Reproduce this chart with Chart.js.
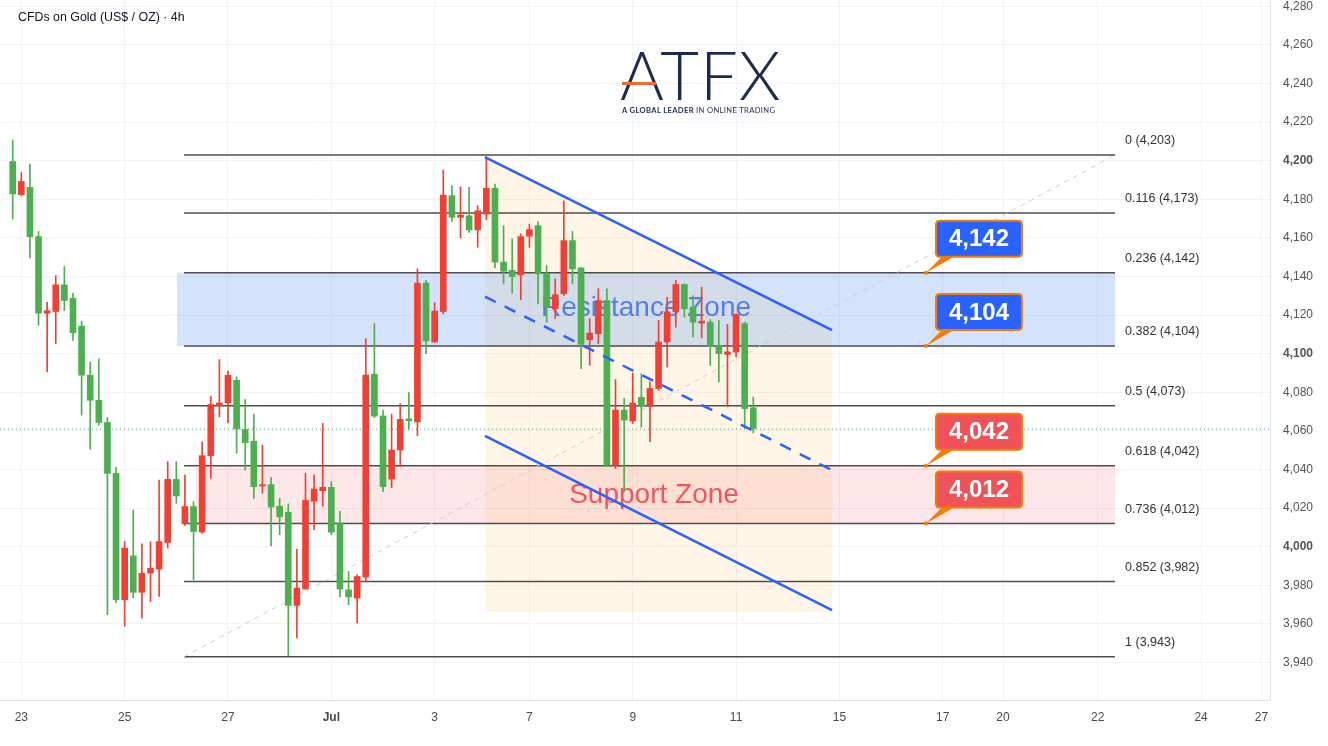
<!DOCTYPE html>
<html><head><meta charset="utf-8">
<script src="https://cdn.jsdelivr.net/npm/chart.js@4.4.1/dist/chart.umd.min.js"></script>
<style>
html,body{margin:0;padding:0;background:#fff;}
#wrap{position:relative;width:1328px;height:746px;overflow:hidden;}
#c{position:absolute;left:0;top:0;}
.title{position:absolute;left:18px;top:10px;font:12.4px "Liberation Sans",Arial,sans-serif;color:#131722;white-space:nowrap;}
.logo{position:absolute;left:620px;top:41px;width:165px;height:80px;}
.logo .atfx{position:absolute;left:0;top:0;font:300 67px Lato,"Liberation Sans",sans-serif;color:#1c2b4e;line-height:66px;letter-spacing:1px;white-space:nowrap;}
.logo .bar{position:absolute;left:2px;top:41px;width:34px;height:3px;background:#f26b2a;}
.logo .tag{position:absolute;left:2px;top:64px;font:700 7.6px Lato,"Liberation Sans",sans-serif;color:#1c2b4e;letter-spacing:0.35px;white-space:nowrap;}
.logo .tag span{font-weight:400;}
</style></head>
<body>
<div id="wrap">
<canvas id="c" width="1328" height="746"></canvas>
<div class="title">CFDs on Gold (US$ / OZ) · 4h</div>
<div class="logo"><div class="atfx">ATFX</div><div class="bar"></div><div class="tag">A GLOBAL LEADER <span>IN ONLINE TRADING</span></div></div>
</div>
<script>
// ---- candle data (4h) ----
const candleOpen = [4199.6,4182.4,4186.2,4160.7,4121.0,4121.9,4135.7,4128.8,4114.3,4088.9,
4075.9,4064.4,4038.0,3972.6,3995.3,3976.4,3986.3,3988.4,4002.2,4034.9,
4011.9,4020.8,4007.6,4047.2,4073.2,4074.5,4086.3,4060.8,4054.7,4031.5,
4032.2,4021.0,4017.9,3969.6,3978.1,4023.6,4029.1,4030.8,4012.3,3977.7,
3973.4,3984.3,4089.4,4067.8,4035.1,4050.1,4066.3,4064.7,4136.6,4106.1,
4121.9,4181.9,4170.7,4171.5,4164.2,4172.4,4185.7,4147.5,4143.2,4140.9,
4160.9,4166.4,4141.4,4123.3,4131.1,4158.6,4144.5,4107.3,4110.4,4127.6,
4042.3,4070.8,4065.2,4077.4,4072.8,4082.0,4106.1,4121.7,4135.9,4124.2,
4115.9,4116.4,4104.4,4099.7,4100.9,4115.6,4072.0];
const candleHigh = [4210.7,4193.9,4198.3,4163.4,4126.7,4140.5,4145.2,4131.4,4116.9,4095.7,
4097.3,4067.0,4041.1,4002.7,4019.0,4001.5,4002.7,4034.6,4044.1,4044.1,
4037.2,4023.4,4054.4,4078.0,4097.0,4091.0,4088.0,4076.3,4068.7,4052.7,
4036.0,4025.1,4022.2,3998.8,4038.0,4037.2,4063.9,4033.7,4018.3,3987.2,
3985.5,4107.8,4115.6,4070.8,4068.7,4074.2,4079.9,4144.0,4138.0,4126.4,
4195.2,4187.0,4186.5,4186.2,4176.7,4202.0,4187.9,4166.4,4159.5,4162.1,
4167.2,4168.4,4145.7,4138.8,4179.3,4163.4,4144.5,4118.2,4133.7,4133.7,
4086.6,4076.9,4090.0,4089.7,4085.4,4117.3,4129.3,4138.0,4136.3,4130.2,
4134.5,4117.6,4117.3,4115.2,4120.7,4116.4,4077.6];
const candleLow = [4169.8,4182.0,4149.7,4114.7,4090.6,4105.2,4122.4,4106.9,4068.2,4050.5,
4063.0,3964.8,3971.0,3958.8,3973.5,3963.0,3971.7,3974.3,3999.3,4022.5,
4011.0,3982.9,4007.0,4035.5,4067.3,4064.2,4048.4,4039.8,4025.1,4027.7,
4000.5,4006.2,3943.6,3952.8,3978.0,4008.8,4021.0,4006.2,3974.0,3970.0,
3960.5,3981.7,4067.0,4028.6,4030.6,4041.5,4060.8,4057.5,4100.0,4105.9,
4120.7,4168.4,4160.0,4162.9,4155.2,4169.5,4144.5,4136.3,4131.4,4128.0,
4155.2,4125.9,4116.4,4118.2,4130.2,4136.3,4092.3,4094.0,4105.2,4041.5,
4040.6,4028.4,4063.9,4062.1,4054.4,4081.0,4093.2,4113.8,4119.0,4108.7,
4108.3,4094.0,4085.4,4072.5,4098.3,4061.3,4059.0];
const candleClose = [4182.8,4189.3,4160.7,4121.0,4122.3,4135.7,4127.6,4110.9,4088.9,4075.9,
4064.4,4038.0,3972.6,3999.3,3976.4,3986.3,3988.8,4002.7,4034.9,4026.3,
4020.8,4007.9,4047.2,4073.7,4074.5,4088.9,4061.0,4054.0,4031.1,4032.2,
4020.6,4015.5,3969.6,3978.6,4024.0,4029.9,4030.8,4007.6,3978.1,3974.0,
3984.6,4088.9,4067.7,4031.1,4050.1,4066.0,4065.3,4136.6,4106.7,4122.1,
4182.2,4170.7,4171.9,4164.2,4174.1,4185.7,4147.5,4142.8,4140.0,4160.7,
4164.3,4141.4,4124.2,4130.6,4158.6,4144.0,4104.9,4110.7,4127.6,4042.3,
4070.8,4065.6,4074.5,4072.8,4082.0,4106.1,4121.7,4135.9,4123.3,4116.4,
4116.9,4103.8,4100.1,4101.0,4120.4,4071.6,4061.3];
const lastPrice = 4061.0;

// ---- axis ticks ----
const xTickIndex  = [1,13,25,37,49,60,72,84,96,108,115,126,138,145];
const xTickLabels = ['23','25','27','Jul','3','7','9','11','15','17','20','22','24','27'];
const yTickValues = [3940,3960,3980,4000,4020,4040,4060,4080,4100,4120,4140,4160,4180,4200,4220,4240,4260,4280];
const xRange = [-1.475, 146.0];
const yRange = [3920.6, 4283.3];

// ---- Fibonacci retracement ----
const fibRatios = ['0','0.116','0.236','0.382','0.5','0.618','0.736','0.852','1'];
const fibLevels = [4203,4173,4142,4104,4073,4042,4012,3982,3943];
const fibSpan = [19.89, 128.0];
const fibLabelIndex = 129.17;
const fibTrendLine = [{x:19.89,y:3943},{x:128.0,y:4203}];

// ---- zones ----
const zoneNames  = ['Resistance Zone','Support Zone'];
const zoneTop    = [4142, 4042];
const zoneBottom = [4104, 4012];
const zoneStart  = [19.08, 21.3];
const zoneEnd    = [128.0, 128.0];
const zoneLabelX = [73.54, 74.47];
const zoneLabelY = [4123.7, 4026.8];

// ---- descending channel ----
const channelUpper  = [{x:54.84,y:4201.9},{x:95.14,y:4112.3}];
const channelMiddle = [{x:54.84,y:4129.6},{x:95.14,y:4039.7}];
const channelLower  = [{x:54.84,y:4057.4},{x:95.14,y:3967.2}];
const channelAreaFloor = 3966.0;

// ---- callout tags ----
const calloutLevels = [4142, 4104, 4042, 4012];
const calloutIndex = 106.05;

const FONT = '"Liberation Sans", Arial, sans-serif';
const UP = '#f23f33', DOWN = '#4caf50';
const idx = candleOpen.map((_, i) => i);
const candleColors = idx.map(i => candleClose[i] >= candleOpen[i] ? UP : DOWN);

const datasets = [];
fibLevels.forEach(l => datasets.push({
  type:'line', data:[{x:fibSpan[0],y:l},{x:fibSpan[1],y:l}], borderColor:'#4d4d4d', borderWidth:1.5,
  pointRadius:0, order:20
}));
datasets.push({type:'line', data:fibTrendLine, borderColor:'#cfcfcf', borderWidth:1, borderDash:[5,5], pointRadius:0, order:19});
datasets.push({type:'line', data:[{x:xRange[0],y:lastPrice},{x:xRange[1],y:lastPrice}], borderColor:'#4caf50', borderWidth:1, borderDash:[1,3], pointRadius:0, order:18});
datasets.push({type:'bar', data: idx.map(i => ({x:i, y:[candleLow[i], candleHigh[i]]})), backgroundColor:candleColors, barThickness:1, grouped:false, order:6});
datasets.push({type:'bar', data: idx.map(i => ({x:i, y:[candleOpen[i], candleClose[i]]})), backgroundColor:candleColors, barThickness:6, grouped:false, order:5});
datasets.push({type:'line', data:channelUpper, borderColor:'#2962ff', borderWidth:2.5, pointRadius:0, order:1});
datasets.push({type:'line', data:channelLower, borderColor:'#2962ff', borderWidth:2.5, pointRadius:0, order:1});
datasets.push({type:'line', data:channelMiddle, borderColor:'#2962ff', borderWidth:2.5, borderDash:[12,10], pointRadius:0, order:1});

function roundRect(ctx, x, y, w, h, r){
  ctx.beginPath();
  ctx.moveTo(x+r,y); ctx.lineTo(x+w-r,y); ctx.quadraticCurveTo(x+w,y,x+w,y+r);
  ctx.lineTo(x+w,y+h-r); ctx.quadraticCurveTo(x+w,y+h,x+w-r,y+h);
  ctx.lineTo(x+r,y+h); ctx.quadraticCurveTo(x,y+h,x,y+h-r);
  ctx.lineTo(x,y+r); ctx.quadraticCurveTo(x,y,x+r,y); ctx.closePath();
}

const overlay = {
  id:'overlay',
  beforeDatasetsDraw(chart){
    const {ctx, chartArea:a} = chart, xs = chart.scales.x, ys = chart.scales.y;
    ctx.save();
    ctx.beginPath(); ctx.rect(a.left, a.top, a.width, a.height); ctx.clip();
    ctx.fillStyle = 'rgba(255,183,77,0.13)';
    ctx.beginPath();
    ctx.moveTo(xs.getPixelForValue(channelUpper[0].x), ys.getPixelForValue(channelUpper[0].y));
    ctx.lineTo(xs.getPixelForValue(channelUpper[1].x), ys.getPixelForValue(channelUpper[1].y));
    ctx.lineTo(xs.getPixelForValue(channelUpper[1].x), ys.getPixelForValue(channelAreaFloor));
    ctx.lineTo(xs.getPixelForValue(channelUpper[0].x), ys.getPixelForValue(channelAreaFloor));
    ctx.closePath(); ctx.fill();
    const zoneFill = ['rgba(41,110,235,0.2)','rgba(242,54,69,0.12)'];
    const zoneText = ['rgba(41,98,220,0.75)','rgba(242,54,69,0.82)'];
    zoneNames.forEach((n,k) => {
      const x1 = xs.getPixelForValue(zoneStart[k]), x2 = xs.getPixelForValue(zoneEnd[k]);
      const y1 = ys.getPixelForValue(zoneTop[k]), y2 = ys.getPixelForValue(zoneBottom[k]);
      ctx.fillStyle = zoneFill[k];
      ctx.fillRect(x1, y1, x2-x1, y2-y1);
    });
    zoneNames.forEach((n,k) => {
      ctx.fillStyle = zoneText[k];
      ctx.font = '28px ' + FONT;
      ctx.textAlign = 'center'; ctx.textBaseline = 'middle';
      ctx.fillText(n, xs.getPixelForValue(zoneLabelX[k]), ys.getPixelForValue(zoneLabelY[k]));
    });
    ctx.restore();
  },
  afterDatasetsDraw(chart){
    const {ctx} = chart, xs = chart.scales.x, ys = chart.scales.y;
    ctx.save();
    ctx.font = '12.5px ' + FONT; ctx.fillStyle = '#333'; ctx.textAlign = 'left'; ctx.textBaseline = 'middle';
    fibLevels.forEach((l,k) => {
      ctx.fillText(fibRatios[k] + ' (' + l.toLocaleString('en-US') + ')', xs.getPixelForValue(fibLabelIndex), ys.getPixelForValue(l) - 14);
    });
    const tagFill = ['#2962ff','#2962ff','#f0525a','#f0525a'];
    calloutLevels.forEach((l,k) => {
      const ax = xs.getPixelForValue(calloutIndex), ay = ys.getPixelForValue(l);
      const bx = ax + 10, by = ay - 52, bw = 86, bh = 36;
      ctx.fillStyle = '#f57c00';
      ctx.beginPath(); ctx.moveTo(ax, ay); ctx.lineTo(bx + 6, by + bh); ctx.lineTo(bx + 18, by + bh); ctx.closePath(); ctx.fill();
      ctx.beginPath(); ctx.arc(ax, ay, 2, 0, Math.PI*2); ctx.fill();
      roundRect(ctx, bx, by, bw, bh, 4);
      ctx.fillStyle = tagFill[k]; ctx.fill();
      ctx.lineWidth = 2; ctx.strokeStyle = '#f57c00'; ctx.stroke();
      ctx.fillStyle = '#fff'; ctx.font = 'bold 24px ' + FONT; ctx.textAlign = 'center'; ctx.textBaseline = 'middle';
      ctx.fillText(l.toLocaleString('en-US'), bx + bw/2, by + bh/2 + 1);
    });
    ctx.restore();
  }
};

new Chart(document.getElementById('c'), {
  type:'bar',
  data:{datasets},
  options:{
    responsive:false, animation:false,
    layout:{padding:0},
    plugins:{legend:{display:false}, tooltip:{enabled:false}},
    scales:{
      x:{type:'linear', min:xRange[0], max:xRange[1], offset:false,
        grid:{color:'#f0f3f8', drawTicks:false, offset:false},
        border:{display:true, color:'#e0e3eb'},
        afterBuildTicks:s => { s.ticks = xTickIndex.map(v => ({value:v})); },
        ticks:{autoSkip:false, maxRotation:0, padding:10, color:'#4a4a4a',
          font: c => ({family:FONT, size:12, weight: xTickLabels[c.index]==='Jul' ? 'bold' : 'normal'}),
          callback:(v,i) => xTickLabels[i]},
        afterFit:s => { s.height = 46; s.paddingLeft = 0; s.paddingRight = 0; }
      },
      y:{type:'linear', position:'right', min:yRange[0], max:yRange[1],
        grid:{color:'#f0f3f8', drawTicks:false},
        border:{display:true, color:'#e0e3eb'},
        afterBuildTicks:s => { s.ticks = yTickValues.map(v => ({value:v})); },
        ticks:{padding:13, color:'#555',
          font: c => ({family:FONT, size:12, weight: (c.tick && c.tick.value % 100 === 0) ? 'bold' : 'normal'}),
          callback:v => v.toLocaleString('en-US')},
        afterFit:s => { s.width = 58; s.paddingTop = 0; s.paddingBottom = 0; }
      }
    }
  },
  plugins:[overlay]
});
</script>
</body></html>
